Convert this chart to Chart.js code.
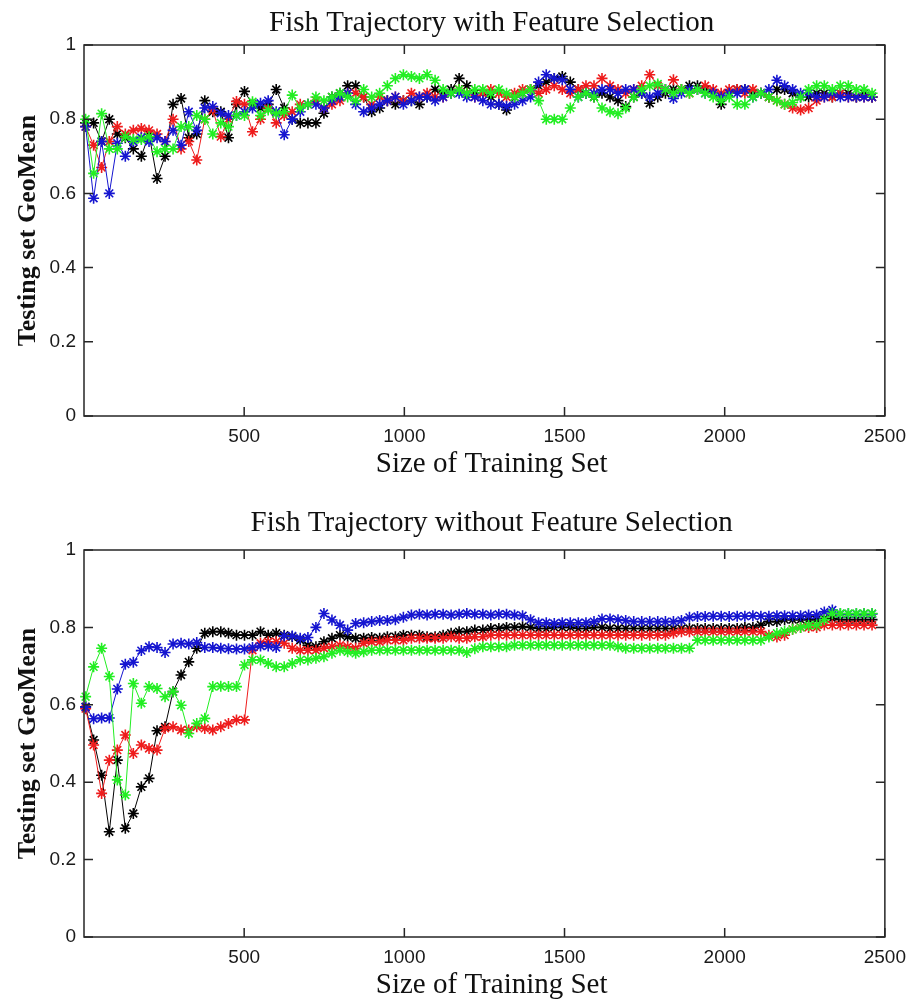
<!DOCTYPE html>
<html>
<head>
<meta charset="utf-8">
<title>Fish Trajectory</title>
<script src="https://cdn.jsdelivr.net/npm/chart.js@4.4.1/dist/chart.umd.min.js"></script>
<style>
  html, body { margin: 0; padding: 0; background: #fff; }
  #wrap { position: relative; width: 915px; height: 1008px; }
  canvas { position: absolute; left: 0; }
  #topChart { top: 0; }
  #bottomChart { top: 500px; }
</style>
</head>
<body>
<div id="wrap">
  <canvas id="topChart" width="915" height="500"></canvas>
  <canvas id="bottomChart" width="915" height="508"></canvas>
</div>
<script>
// training set sizes, one run every ~25 samples
var sizes = [];
for (var i = 0; i < 100; i++) sizes.push(Math.round(5 + 24.8 * i));

var xTicks = [500, 1000, 1500, 2000, 2500];
var yTicks = [0, 0.2, 0.4, 0.6, 0.8, 1];

// GeoMean with feature selection
var topBlack = [
  0.79, 0.79, 0.74, 0.80, 0.76, 0.75, 0.72, 0.70, 0.76, 0.64,
  0.70, 0.84, 0.856, 0.75, 0.76, 0.85, 0.82, 0.82, 0.75, 0.84,
  0.875, 0.84, 0.83, 0.84, 0.88, 0.83, 0.80, 0.79, 0.79, 0.79,
  0.816, 0.86, 0.87, 0.89, 0.89, 0.86, 0.82, 0.83, 0.85, 0.84,
  0.85, 0.85, 0.84, 0.86, 0.88, 0.87, 0.88, 0.91, 0.89, 0.87,
  0.87, 0.86, 0.84, 0.825, 0.86, 0.87, 0.88, 0.89, 0.90, 0.91,
  0.915, 0.90, 0.88, 0.87, 0.86, 0.87, 0.86, 0.85, 0.834, 0.86,
  0.87, 0.843, 0.86, 0.87, 0.88, 0.88, 0.89, 0.89, 0.88, 0.87,
  0.84, 0.87, 0.88, 0.88, 0.87, 0.87, 0.86, 0.88, 0.88, 0.87,
  0.86, 0.86, 0.87, 0.87, 0.86, 0.87, 0.87, 0.86, 0.87, 0.86
];
var topRed = [
  0.78, 0.73, 0.67, 0.74, 0.78, 0.76, 0.77, 0.775, 0.77, 0.76,
  0.74, 0.80, 0.72, 0.74, 0.69, 0.80, 0.825, 0.753, 0.80, 0.848,
  0.84, 0.766, 0.80, 0.83, 0.79, 0.81, 0.82, 0.84, 0.84, 0.85,
  0.83, 0.84, 0.85, 0.87, 0.87, 0.86, 0.84, 0.86, 0.85, 0.86,
  0.85, 0.87, 0.86, 0.87, 0.86, 0.86, 0.87, 0.88, 0.87, 0.86,
  0.87, 0.88, 0.87, 0.86, 0.87, 0.88, 0.88, 0.87, 0.88, 0.89,
  0.88, 0.87, 0.88, 0.89, 0.89, 0.91, 0.89, 0.88, 0.87, 0.88,
  0.89, 0.92, 0.89, 0.88, 0.906, 0.88, 0.87, 0.88, 0.89, 0.88,
  0.87, 0.88, 0.88, 0.87, 0.88, 0.87, 0.86, 0.85, 0.84, 0.83,
  0.825, 0.83, 0.85, 0.86, 0.86, 0.87, 0.86, 0.86, 0.86, 0.86
];
var topBlue = [
  0.78, 0.587, 0.74, 0.60, 0.735, 0.70, 0.74, 0.75, 0.74, 0.75,
  0.74, 0.77, 0.73, 0.82, 0.77, 0.83, 0.834, 0.816, 0.81, 0.81,
  0.82, 0.83, 0.843, 0.85, 0.82, 0.758, 0.80, 0.82, 0.84, 0.84,
  0.83, 0.85, 0.86, 0.87, 0.84, 0.82, 0.83, 0.84, 0.85, 0.86,
  0.84, 0.85, 0.86, 0.86, 0.85, 0.86, 0.87, 0.87, 0.86, 0.86,
  0.85, 0.84, 0.84, 0.835, 0.84, 0.85, 0.86, 0.90, 0.92, 0.91,
  0.906, 0.88, 0.86, 0.87, 0.87, 0.88, 0.88, 0.87, 0.88, 0.88,
  0.87, 0.86, 0.87, 0.88, 0.856, 0.87, 0.88, 0.88, 0.87, 0.87,
  0.86, 0.87, 0.87, 0.88, 0.86, 0.87, 0.88, 0.905, 0.89, 0.88,
  0.87, 0.87, 0.86, 0.86, 0.87, 0.86, 0.86, 0.86, 0.86, 0.86
];
var topGreen = [
  0.80, 0.654, 0.815, 0.72, 0.72, 0.753, 0.745, 0.745, 0.753, 0.712,
  0.72, 0.72, 0.78, 0.78, 0.81, 0.80, 0.76, 0.79, 0.78, 0.81,
  0.81, 0.847, 0.81, 0.825, 0.815, 0.82, 0.865, 0.83, 0.84, 0.86,
  0.85, 0.86, 0.87, 0.86, 0.85, 0.88, 0.86, 0.87, 0.89, 0.91,
  0.92, 0.915, 0.91, 0.92, 0.905, 0.88, 0.87, 0.88, 0.87, 0.88,
  0.88, 0.87, 0.88, 0.87, 0.86, 0.87, 0.88, 0.85, 0.80, 0.80,
  0.80, 0.83, 0.86, 0.87, 0.86, 0.83, 0.82, 0.815, 0.83, 0.86,
  0.88, 0.89, 0.895, 0.88, 0.87, 0.88, 0.87, 0.88, 0.87, 0.86,
  0.85, 0.86, 0.84, 0.84, 0.86, 0.87, 0.86, 0.85, 0.84, 0.845,
  0.86, 0.88, 0.89, 0.89, 0.88, 0.89, 0.89, 0.88, 0.88, 0.87
];

// GeoMean without feature selection
var bottomBlack = [
  0.595, 0.509, 0.418, 0.272, 0.457, 0.281, 0.319, 0.388, 0.41, 0.533,
  0.543, 0.634, 0.677, 0.711, 0.746, 0.785, 0.789, 0.789, 0.785, 0.78,
  0.78, 0.78, 0.789, 0.78, 0.785, 0.78, 0.776, 0.767, 0.754, 0.75,
  0.763, 0.772, 0.78, 0.776, 0.772, 0.772, 0.774, 0.772, 0.776, 0.776,
  0.78, 0.78, 0.78, 0.776, 0.776, 0.78, 0.785, 0.789, 0.789, 0.793,
  0.793, 0.797, 0.797, 0.80, 0.80, 0.802, 0.80, 0.797, 0.797, 0.80,
  0.80, 0.80, 0.797, 0.797, 0.80, 0.80, 0.797, 0.797, 0.797, 0.797,
  0.797, 0.797, 0.797, 0.797, 0.797, 0.797, 0.797, 0.797, 0.797, 0.797,
  0.797, 0.797, 0.797, 0.80, 0.80, 0.806, 0.815, 0.815, 0.82, 0.82,
  0.82, 0.82, 0.82, 0.823, 0.823, 0.82, 0.82, 0.82, 0.82, 0.82
];
var bottomRed = [
  0.59, 0.496, 0.371, 0.457, 0.483, 0.522, 0.474, 0.496, 0.487, 0.483,
  0.539, 0.543, 0.535, 0.535, 0.543, 0.539, 0.535, 0.543, 0.552, 0.561,
  0.561, 0.741, 0.759, 0.763, 0.763, 0.759, 0.746, 0.741, 0.741, 0.741,
  0.746, 0.75, 0.754, 0.75, 0.746, 0.759, 0.763, 0.763, 0.767, 0.767,
  0.767, 0.772, 0.772, 0.772, 0.772, 0.772, 0.776, 0.772, 0.772, 0.776,
  0.776, 0.78, 0.78, 0.78, 0.78, 0.78, 0.78, 0.78, 0.78, 0.78,
  0.78, 0.78, 0.78, 0.78, 0.78, 0.78, 0.78, 0.78, 0.78, 0.78,
  0.78, 0.78, 0.78, 0.78, 0.785, 0.789, 0.789, 0.789, 0.789, 0.789,
  0.789, 0.789, 0.789, 0.789, 0.789, 0.789, 0.78, 0.775, 0.78, 0.795,
  0.80, 0.80, 0.80, 0.806, 0.806, 0.806, 0.806, 0.806, 0.806, 0.806
];
var bottomBlue = [
  0.594, 0.564, 0.566, 0.566, 0.641, 0.705, 0.71, 0.74, 0.75, 0.748,
  0.735, 0.757, 0.759, 0.757, 0.761, 0.748, 0.748, 0.746, 0.745, 0.744,
  0.744, 0.748, 0.752, 0.752, 0.748, 0.778, 0.778, 0.772, 0.774, 0.80,
  0.836, 0.819, 0.806, 0.793, 0.81, 0.812, 0.815, 0.818, 0.818, 0.82,
  0.826, 0.832, 0.834, 0.832, 0.834, 0.834, 0.832, 0.834, 0.836, 0.834,
  0.834, 0.832, 0.834, 0.834, 0.832, 0.83, 0.82, 0.812, 0.812, 0.81,
  0.812, 0.812, 0.812, 0.812, 0.815, 0.822, 0.822, 0.82, 0.818, 0.815,
  0.815, 0.815, 0.815, 0.815, 0.815, 0.818, 0.826, 0.828, 0.828, 0.829,
  0.829, 0.828, 0.829, 0.829, 0.83, 0.829, 0.829, 0.83, 0.83, 0.83,
  0.83, 0.832, 0.832, 0.84, 0.845, 0.835, 0.835, 0.835, 0.835, 0.835
];
var bottomGreen = [
  0.621, 0.698, 0.746, 0.673, 0.406, 0.367, 0.655, 0.604, 0.647, 0.642,
  0.621, 0.634, 0.599, 0.526, 0.552, 0.565, 0.647, 0.648, 0.647, 0.647,
  0.703, 0.716, 0.716, 0.707, 0.698, 0.698, 0.707, 0.716, 0.716, 0.72,
  0.724, 0.733, 0.741, 0.737, 0.733, 0.737, 0.741, 0.741, 0.741, 0.741,
  0.741, 0.741, 0.741, 0.741, 0.741, 0.741, 0.741, 0.741, 0.735, 0.745,
  0.75, 0.75, 0.75, 0.75, 0.754, 0.754, 0.754, 0.754, 0.754, 0.754,
  0.754, 0.754, 0.754, 0.754, 0.754, 0.754, 0.754, 0.75, 0.746, 0.746,
  0.746, 0.746, 0.746, 0.746, 0.746, 0.746, 0.746, 0.767, 0.767, 0.767,
  0.767, 0.767, 0.767, 0.767, 0.767, 0.767, 0.775, 0.785, 0.79, 0.795,
  0.80, 0.805, 0.806, 0.82, 0.836, 0.836, 0.836, 0.836, 0.836, 0.836
];

var colors = { black: '#000000', red: '#ee1c1c', blue: '#1515d0', green: '#22ee22' };
var serif = '"Liberation Serif", "Times New Roman", serif';

Chart.defaults.font.family = '"Liberation Sans", Arial, sans-serif';
Chart.defaults.color = '#1a1a1a';

// matlab-style box with inward ticks on all four sides
var frameTicks = {
  id: 'frameTicks',
  afterDraw: function(chart) {
    var ctx = chart.ctx, a = chart.chartArea;
    var xs = chart.scales.x, ys = chart.scales.y;
    var len = 9;
    ctx.save();
    ctx.strokeStyle = '#262626';
    ctx.lineWidth = 1.5;
    ctx.strokeRect(a.left, a.top, a.right - a.left, a.bottom - a.top);
    ctx.beginPath();
    xTicks.forEach(function(v) {
      var px = xs.getPixelForValue(v);
      ctx.moveTo(px, a.bottom); ctx.lineTo(px, a.bottom - len);
      ctx.moveTo(px, a.top); ctx.lineTo(px, a.top + len);
    });
    yTicks.forEach(function(v) {
      var py = ys.getPixelForValue(v);
      ctx.moveTo(a.left, py); ctx.lineTo(a.left + len, py);
      ctx.moveTo(a.right, py); ctx.lineTo(a.right - len, py);
    });
    ctx.stroke();
    ctx.restore();
  }
};

function series(label, values, color) {
  return {
    label: label,
    data: values.map(function(v, i) { return { x: sizes[i], y: v }; }),
    borderColor: color,
    backgroundColor: color,
    borderWidth: 1,
    pointStyle: 'star',
    pointRadius: 5.5,
    pointBorderWidth: 1.6,
    pointBorderColor: color,
    clip: false
  };
}

function makeChart(id, title, data, topHeight, xTitlePad, xHeight) {
  var ctx = document.getElementById(id);
  return new Chart(ctx, {
    type: 'line',
    data: {
      datasets: [
        series('green', data.green, colors.green),
        series('blue', data.blue, colors.blue),
        series('red', data.red, colors.red),
        series('black', data.black, colors.black)
      ]
    },
    options: {
      responsive: false,
      animation: false,
      layout: { padding: { left: 0, right: 27, top: 0, bottom: 0 } },
      plugins: {
        legend: { display: false },
        tooltip: { enabled: false }
      },
      scales: {
        // top axis only carries the plot title, centred over the axes box
        xTop: {
          type: 'linear',
          position: 'top',
          min: 0,
          max: 2500,
          afterFit: function(scale) { scale.height = topHeight; },
          ticks: { display: false },
          grid: { display: false, drawTicks: false },
          border: { display: false },
          title: {
            display: true,
            text: '\u2002' + title,
            color: '#111',
            font: { family: serif, size: 29 },
            padding: { top: 6, bottom: 0 }
          }
        },
        x: {
          type: 'linear',
          position: 'bottom',
          min: 0,
          max: 2500,
          afterBuildTicks: function(scale) {
            scale.ticks = xTicks.map(function(v) { return { value: v }; });
          },
          afterFit: function(scale) { scale.height = xHeight; },
          ticks: {
            padding: 9,
            maxRotation: 0,
            font: { size: 19 },
            callback: function(v) { return String(v); }
          },
          grid: { display: false, drawTicks: false },
          border: { display: false },
          title: {
            display: true,
            text: '\u2002Size of Training Set',
            color: '#111',
            font: { family: serif, size: 29 },
            padding: { top: 0, bottom: xTitlePad }
          }
        },
        y: {
          min: 0,
          max: 1,
          afterBuildTicks: function(scale) {
            scale.ticks = yTicks.map(function(v) { return { value: v }; });
          },
          afterFit: function(scale) { scale.width = 84; },
          ticks: {
            padding: 8,
            font: { size: 19 },
            callback: function(v) { return String(+v.toFixed(1)); }
          },
          grid: { display: false, drawTicks: false },
          border: { display: false },
          title: {
            display: true,
            text: 'Testing set GeoMean',
            color: '#111',
            font: { family: serif, size: 26, weight: 'bold' },
            padding: { top: 13, bottom: 0 }
          }
        }
      }
    },
    plugins: [frameTicks]
  });
}

makeChart('topChart', 'Fish Trajectory with Feature Selection',
  { black: topBlack, red: topRed, blue: topBlue, green: topGreen },
  45, 18, 84);

makeChart('bottomChart', 'Fish Trajectory without Feature Selection',
  { black: bottomBlack, red: bottomRed, blue: bottomBlue, green: bottomGreen },
  50, 5, 71);
</script>
</body>
</html>
